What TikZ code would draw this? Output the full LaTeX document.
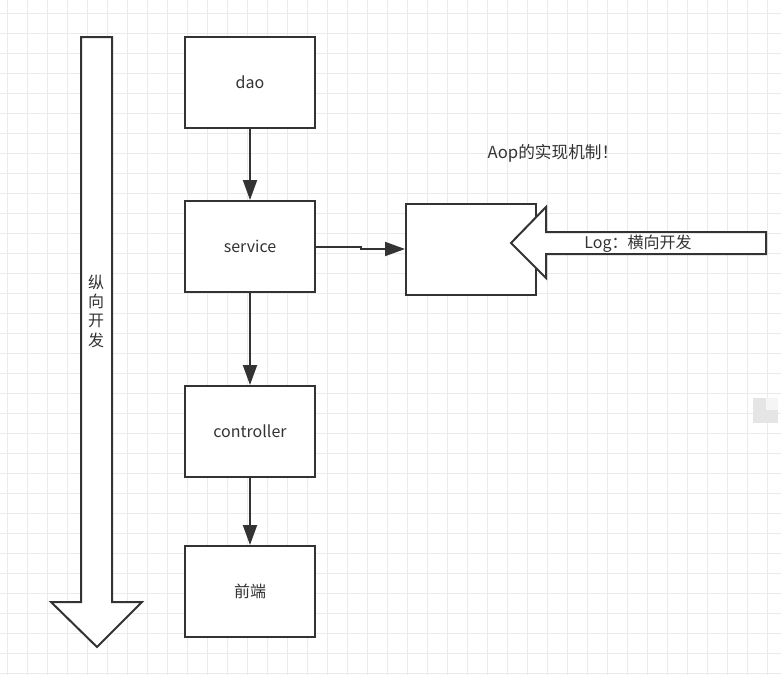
\documentclass[tikz,border=0pt]{standalone}
\usepackage{fontspec}
\setmainfont{Noto Sans CJK SC}
\usetikzlibrary{arrows.meta}
\definecolor{gridgray}{HTML}{EBEBEB}
\definecolor{ink}{HTML}{333333}
\begin{document}
\begin{tikzpicture}[x=0.75pt,y=-0.75pt,line width=1.5pt,>={Triangle[length=15pt,width=10.5pt]},
  layer/.style={draw=ink,fill=white,minimum width=97.5pt,minimum height=68.25pt,inner sep=0pt,
    font=\fontsize{12}{14}\selectfont,text=ink},
  label/.style={font=\fontsize{12}{14}\selectfont,text=ink,inner sep=0pt}]
\useasboundingbox[fill=white] (0,0) rectangle (781,675);
% grid
\foreach \gx in {7,27,...,767} \draw[gridgray,line width=0.75pt] (\gx,0) -- (\gx,675);
\foreach \gy in {13,33,...,673} \draw[gridgray,line width=0.75pt] (0,\gy) -- (781,\gy);
% vertical arrow
\draw[ink,fill=white,line join=miter] (81,37) -- (112,37) -- (112,602) -- (142,602) -- (97,647)
  -- (51,602) -- (81,602) -- cycle;
\node[label,align=center,font=\fontsize{12}{14.5}\selectfont] (vert) at (96,311) {纵\\向\\开\\发};
% layers
\node[layer] (dao) at (250,82.5) {dao};
\node[layer] (service) at (250,246.5) {service};
\node[layer] (controller) at (250,431.5) {controller};
\node[layer] (front) at (250,591.5) {前端};
\draw[ink,->] (dao) -- (service);
\draw[ink,->] (service) -- (controller);
\draw[ink,->] (controller) -- (front);
% aop
\node[layer] (aopbox) at (471,249) {};
\draw[ink,->] (service.east) -- ++(45,0) |- (aopbox.west);
\node[label,font=\fontsize{12.5}{14}\selectfont] (aoptitle) at (553,153) {Aop的实现机制！};
% horizontal arrow
\draw[ink,fill=white,line join=miter] (766,232) -- (546,232) -- (546,207) -- (511,243) -- (546,278)
  -- (546,254) -- (766,254) -- cycle;
\node[label] (log) at (638,244) {Log：横向开发};
% handle
\fill[gray!20] (753,398) rectangle (778,423);
\fill[gray!8] (766,398) rectangle (778,410);
\end{tikzpicture}
\end{document}
